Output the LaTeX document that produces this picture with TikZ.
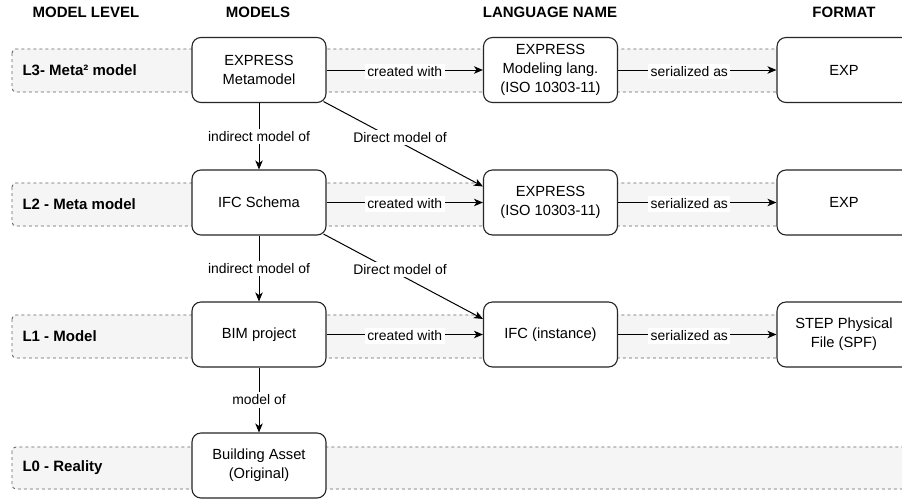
\documentclass[tikz,border=0pt]{standalone}
\usepackage{fontspec}
\setmainfont{Liberation Sans}
\usetikzlibrary{arrows.meta,calc}
\begin{document}
\begin{tikzpicture}[x=1pt,y=-1pt,
  box/.style={draw=black!85, line width=1.1pt, rounded corners=9pt, minimum width=134pt, minimum height=65pt, align=center, font=\fontsize{14.7}{19}\selectfont, fill=white, inner sep=0pt},
  band/.style={draw=black!60, dash pattern=on 3pt off 3pt, fill=black!4, rounded corners=4pt, line width=0.9pt},
  hdr/.style={font=\fontsize{15}{18}\selectfont\bfseries},
  lvl/.style={font=\fontsize{15}{18}\selectfont\bfseries, anchor=west},
  arr/.style={-{Stealth[length=9pt,width=7.5pt,inset=2.5pt]}, line width=1pt},
  lab/.style={fill=white, font=\fontsize{13.9}{17}\selectfont, inner sep=2.5pt}
]
\clip (0,0) rectangle (902,499);
\fill[white] (0,0) rectangle (902,499);

% bands
\draw[band] (12,49) rectangle (940,92);
\draw[band] (12,183) rectangle (940,226);
\draw[band] (12,315) rectangle (940,358);
\draw[band] (12,447) rectangle (940,489);

% headers
\node[hdr] (h1) at (86,12) {MODEL LEVEL};
\node[hdr] (h2) at (258,12) {MODELS};
\node[hdr] (h3) at (550,12) {LANGUAGE NAME};
\node[hdr] (h4) at (844,12) {FORMAT};

% level labels
\node[lvl] (l3) at (19,70.5) {L3- Meta² model};
\node[lvl] (l2) at (19,204.5) {L2 - Meta model};
\node[lvl] (l1) at (19,336.5) {L1 - Model};
\node[lvl] (l0) at (19,467.5) {L0 - Reality};

% model boxes
\node[box] (m3) at (259,70) {EXPRESS\\Metamodel};
\node[box] (m2) at (259,202.5) {IFC Schema};
\node[box] (m1) at (259,334.5) {BIM project};
\node[box] (m0) at (259,465.5) {Building Asset\\(Original)};

% language boxes
\node[box] (g3) at (550.5,70) {EXPRESS\\Modeling lang.\\(ISO 10303-11)};
\node[box] (g2) at (550.5,202.5) {EXPRESS\\(ISO 10303-11)};
\node[box] (g1) at (550.5,334.5) {IFC (instance)};

% format boxes
\node[box] (f3) at (844,70) {EXP};
\node[box] (f2) at (844,202.5) {EXP};
\node[box] (f1) at (844,334.5) {STEP Physical\\File (SPF)};

% vertical arrows
\draw[arr] (m3) -- node[lab] {indirect model of} (m2);
\draw[arr] (m2) -- node[lab] {indirect model of} (m1);
\draw[arr] (m1) -- node[lab] {model of} (m0);

% horizontal arrows
\draw[arr] (m3) -- node[lab, yshift=-1.5pt] {created with} (g3);
\draw[arr] (m2) -- node[lab, yshift=-1.5pt] {created with} (g2);
\draw[arr] (m1) -- node[lab, yshift=-1.5pt] {created with} (g1);
\draw[arr] (g3) -- node[lab, pos=0.45, yshift=-1.5pt] {serialized as} (f3);
\draw[arr] (g2) -- node[lab, pos=0.45, yshift=-1.5pt] {serialized as} (f2);
\draw[arr] (g1) -- node[lab, pos=0.45, yshift=-1.5pt] {serialized as} (f1);

% diagonal arrows
\coordinate (d3s) at ($(m3.south east)+(-3,-1.5)$);
\coordinate (d3e) at ($(g2.north west)+(0,17)$);
\coordinate (d2s) at ($(m2.south east)+(-3,-1.5)$);
\coordinate (d2e) at ($(g1.north west)+(0,17.5)$);
\draw[arr] (d3s) -- node[lab, pos=0.48, yshift=5pt] {Direct model of} (d3e);
\draw[arr] (d2s) -- node[lab, pos=0.48, yshift=5pt] {Direct model of} (d2e);
\end{tikzpicture}
\end{document}
